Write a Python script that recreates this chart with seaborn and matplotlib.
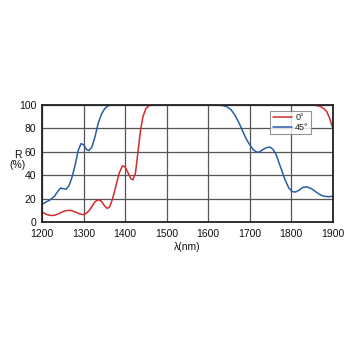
import numpy as np
import pandas as pd
import matplotlib
matplotlib.use("Agg")
import matplotlib.pyplot as plt
import seaborn as sns

# 0 deg reflectance
wl_0 = [1200, 1210, 1220, 1230, 1240, 1250, 1260, 1270, 1280, 1290, 1298, 1305, 1313, 1320,
        1327, 1335, 1342, 1350, 1357, 1363, 1370, 1378, 1386, 1394, 1400, 1407, 1414, 1419,
        1425, 1431, 1437, 1443, 1450, 1458, 1470, 1550, 1650, 1750, 1840, 1850, 1860, 1870,
        1878, 1885, 1892, 1900]
r_0 = [8.6, 6.5, 5.5, 5.6, 7.0, 8.8, 9.8, 9.8, 8.5, 7.0, 6.2, 7.0, 9.5, 13,
       17, 19, 18, 14, 11.5, 13, 20, 31, 42, 48, 47, 42, 37, 36,
       42, 60, 78, 90, 97, 99.5, 100, 100, 100, 100, 100, 100, 99.6, 98.8,
       97, 94.5, 89, 80]

# 45 deg reflectance
wl_45 = [1200, 1210, 1220, 1230, 1240, 1245, 1250, 1258, 1265, 1272, 1280, 1287, 1294, 1300,
         1307, 1313, 1320, 1327, 1335, 1343, 1351, 1360, 1370, 1450, 1550, 1600, 1620, 1635,
         1645, 1655, 1665, 1675, 1685, 1693, 1700, 1708, 1715, 1722, 1730, 1740, 1749, 1756,
         1763, 1770, 1777, 1785, 1794, 1802, 1810, 1818, 1828, 1838, 1848, 1858, 1868, 1878,
         1890, 1900]
r_45 = [15, 17, 19, 22, 27, 29, 28.5, 28, 31, 38, 49, 61, 67, 66,
        62, 61, 64, 72, 84, 92, 97, 99.5, 100, 100, 100, 100, 100, 99.5,
        98.5, 96, 91, 84, 76, 70, 66, 62, 60, 59.5, 61.5, 63.5, 64, 62,
        58, 51, 44, 36, 29, 26, 25.5, 27, 29.5, 30, 28.5, 26, 23.5, 22,
        21.5, 22]

labels = ["0°", "45°"]
x_ticks = [1200, 1300, 1400, 1500, 1600, 1700, 1800, 1900]
y_ticks = [0, 20, 40, 60, 80, 100]

df = pd.concat([
    pd.DataFrame({"wl": wl_0, "R": r_0, "angle": labels[0]}),
    pd.DataFrame({"wl": wl_45, "R": r_45, "angle": labels[1]}),
], ignore_index=True)

sns.set_style("white")
plt.rcParams["font.family"] = ["Liberation Sans", "DejaVu Sans"]

fig = plt.figure(figsize=(3.5, 3.5), dpi=100)
ax = fig.add_axes([0.12, 0.366, 0.831, 0.334])

sns.lineplot(data=df, x="wl", y="R", hue="angle", palette=["#d02c2c", "#2a5ca8"],
             linewidth=1.1, ax=ax, sort=False, estimator=None)

ax.set_xlim(1200, 1900)
ax.set_ylim(0, 100)
ax.set_xticks(x_ticks)
ax.set_yticks(y_ticks)
ax.tick_params(axis="both", labelsize=7.5, length=0, labelcolor="#111111")
ax.tick_params(axis="x", pad=5)
ax.tick_params(axis="y", pad=4)
ax.grid(True, color="#555555", linewidth=0.9)
for s in ax.spines.values():
    s.set_color("#222222")
    s.set_linewidth(1.3)

ax.set_xlabel("λ(nm)", fontsize=7.5, labelpad=2, color="#111111")
ax.set_ylabel("")
fig.text(18 / 350, 1 - 160 / 350, "R\n(%)", fontsize=7.5, ha="center", va="center",
         linespacing=0.9, color="#111111")

leg = ax.legend(loc="upper left", bbox_to_anchor=(0.785, 0.95), fontsize=6.5,
                frameon=True, fancybox=False, handlelength=2.2, handletextpad=0.3,
                borderpad=0.25, labelspacing=0.1, borderaxespad=0)
leg.get_frame().set_edgecolor("#777777")
leg.get_frame().set_linewidth(0.8)
leg.set_title(None)

fig.savefig("out.png", dpi=100, facecolor="white")
